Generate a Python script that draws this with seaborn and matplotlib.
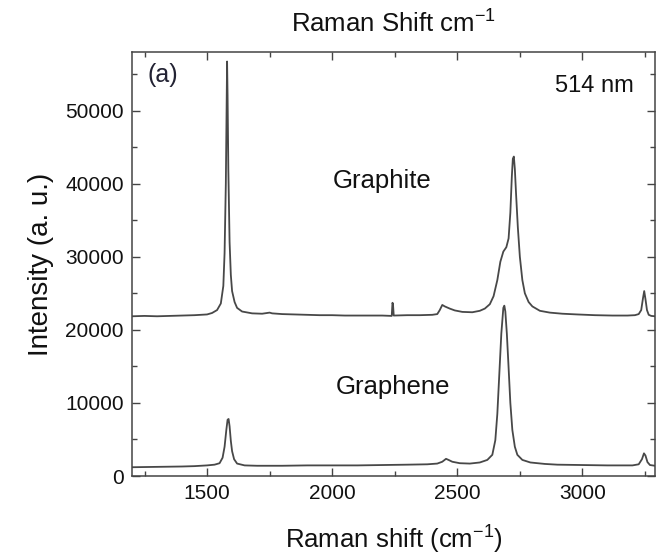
import numpy as np
import pandas as pd
import matplotlib
matplotlib.use("Agg")
import matplotlib.pyplot as plt
from matplotlib.ticker import MultipleLocator
import seaborn as sns

# Raman spectrum of graphite (offset trace), wavenumber in cm^-1 and intensity in counts
graphite_shift = [1200, 1250, 1300, 1350, 1400, 1450, 1500, 1520, 1540, 1555, 1565, 1570,
                  1575, 1578, 1580, 1582, 1585, 1590, 1595, 1600, 1610, 1620, 1640, 1680,
                  1720, 1740, 1750, 1760, 1800, 1850, 1900, 1950, 2000, 2050, 2100, 2150,
                  2200, 2238, 2241, 2243, 2246, 2300, 2350, 2400, 2420, 2430, 2440, 2450,
                  2470, 2490, 2520, 2560, 2590, 2610, 2630, 2645, 2660, 2672, 2684, 2696,
                  2705, 2712, 2718, 2722, 2726, 2730, 2735, 2742, 2750, 2760, 2770, 2785,
                  2800, 2830, 2870, 2920, 2980, 3050, 3120, 3180, 3210, 3225, 3235, 3242,
                  3247, 3252, 3258, 3265, 3275, 3290]
graphite_intensity = [21850, 21900, 21850, 21900, 21950, 22000, 22100, 22300, 22700, 23600,
                      26000, 30500, 40000, 50000, 56700, 52000, 42000, 32000, 27500, 25300,
                      23800, 23000, 22500, 22250, 22200, 22300, 22350, 22250, 22150, 22100,
                      22050, 22000, 22000, 21950, 21950, 21950, 21950, 21900, 23700, 23500,
                      21950, 22000, 22000, 22050, 22150, 22700, 23400, 23200, 22900, 22650,
                      22450, 22400, 22600, 22900, 23500, 24600, 26800, 29300, 30700, 31300,
                      32500, 36000, 41000, 43400, 43700, 42000, 38500, 34000, 30000, 26800,
                      25000, 23800, 23200, 22600, 22350, 22200, 22100, 22000, 21950, 21950,
                      22000, 22150, 22700, 24300, 25300, 24200, 22700, 22050, 21900, 21850]

# Raman spectrum of single-layer graphene
graphene_shift = [1200, 1300, 1400, 1450, 1500, 1530, 1550, 1562, 1570, 1577, 1582, 1586,
                  1590, 1595, 1600, 1608, 1620, 1650, 1700, 1800, 1900, 2000, 2100, 2200,
                  2300, 2380, 2420, 2440, 2455, 2465, 2480, 2510, 2550, 2590, 2620, 2640,
                  2652, 2660, 2668, 2676, 2684, 2688, 2692, 2698, 2704, 2712, 2720, 2730,
                  2740, 2760, 2792, 2850, 2900, 3000, 3100, 3200, 3225, 3238, 3246, 3252,
                  3260, 3270, 3290]
graphene_intensity = [1200, 1250, 1300, 1350, 1450, 1550, 1750, 2500, 4000, 6300, 7700, 7800,
                      6800, 4800, 3400, 2300, 1700, 1450, 1400, 1400, 1450, 1450, 1450, 1500,
                      1550, 1600, 1700, 1950, 2350, 2200, 1950, 1750, 1700, 1850, 2200, 2900,
                      4900, 8500, 14000, 19500, 23000, 23300, 22500, 19500, 15500, 10000, 6300,
                      4000, 2900, 2200, 1850, 1650, 1550, 1500, 1450, 1450, 1600, 2300, 3100,
                      2800, 1900, 1500, 1400]

x_ticks = [1500, 2000, 2500, 3000]
y_ticks = [0, 10000, 20000, 30000, 40000, 50000]

sns.set_theme(style="ticks")
plt.rcParams["font.family"] = ["Liberation Sans", "DejaVu Sans"]
plt.rcParams["mathtext.fontset"] = "custom"
plt.rcParams["mathtext.rm"] = "Liberation Sans"
plt.rcParams["mathtext.it"] = "Liberation Sans:italic"

fig = plt.figure(figsize=(6.58, 5.60), dpi=100)
ax = fig.add_axes([0.2006, 0.15, 0.7948, 0.7571])

line_color = "#484848"
df_graphite = pd.DataFrame({"shift": graphite_shift, "intensity": graphite_intensity})
df_graphene = pd.DataFrame({"shift": graphene_shift, "intensity": graphene_intensity})
sns.lineplot(data=df_graphite, x="shift", y="intensity", ax=ax, color=line_color,
             lw=1.3, sort=False, estimator=None)
sns.lineplot(data=df_graphene, x="shift", y="intensity", ax=ax, color=line_color,
             lw=1.3, sort=False, estimator=None)

ax.set_xlim(1200, 3290)
ax.set_ylim(0, 58000)
ax.set_xticks(x_ticks)
ax.set_yticks(y_ticks)
ax.xaxis.set_minor_locator(MultipleLocator(250))
ax.yaxis.set_minor_locator(MultipleLocator(5000))
ax.tick_params(which="both", direction="in", top=True, right=True,
               colors="#444444", labelcolor="#111111", width=1.0)
ax.tick_params(which="major", length=6, labelsize=15, pad=6)
ax.tick_params(which="minor", length=3.5)
for s in ax.spines.values():
    s.set_color("#444444")
    s.set_linewidth(1.1)

ax.set_xlabel("Raman shift (cm$^{-1}$)", fontsize=18.5, color="#111111", labelpad=15)
ax.set_ylabel("Intensity (a. u.)", fontsize=20, color="#111111", labelpad=8)
ax.set_title("Raman Shift cm$^{-1}$", fontsize=18.5, color="#111111", pad=14)

ax.text(1262, 54900, "(a)", fontsize=18, color="#222233", ha="left", va="center")
ax.text(3205, 53300, "514 nm", fontsize=17, color="#111111", ha="right", va="center")
ax.text(2200, 40300, "Graphite", fontsize=18.5, color="#111111", ha="center", va="center")
ax.text(2245, 12200, "Graphene", fontsize=18.5, color="#111111", ha="center", va="center")

fig.savefig("out.png", dpi=100)
